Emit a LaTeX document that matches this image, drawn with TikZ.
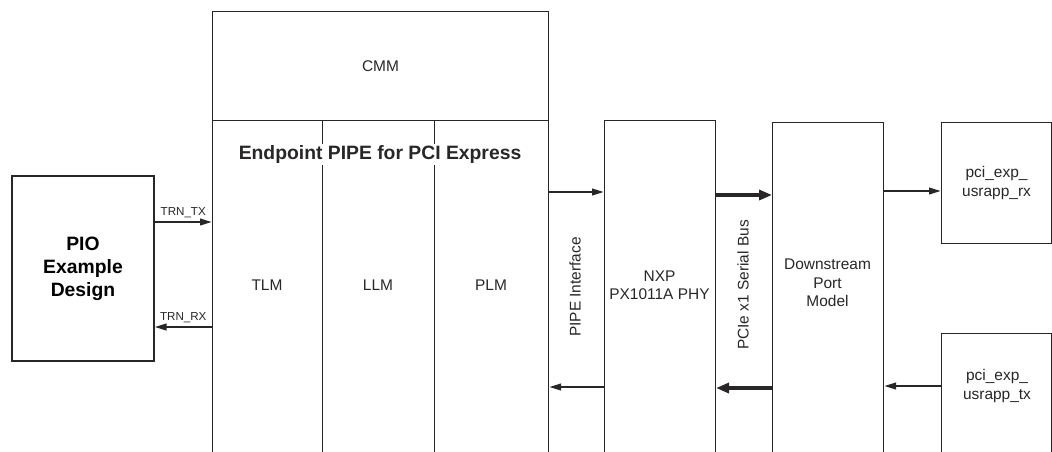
\documentclass[tikz,border=0pt]{standalone}
\usepackage{fontspec}
\setmainfont{Liberation Sans}
\usetikzlibrary{arrows.meta, positioning}
\definecolor{myline}{RGB}{40, 38, 38}

\begin{document}
\begin{tikzpicture}[
    blk/.style={draw=myline, line width=0.6pt, inner sep=0pt},
    lbl/.style={font=\fontsize{8.8}{10.5}\selectfont, align=center, text=myline},
    sig/.style={line width=1.3pt, draw=myline, -{Triangle[length=2.4mm, width=1.3mm]}},
    bus/.style={line width=2pt, draw=myline, -{Triangle[length=2.6mm, width=2mm]}},
    small/.style={font=\fontsize{6.6}{8}\selectfont, text=myline, inner sep=1.5pt}
]
    \useasboundingbox (0,0) rectangle (21.04,-9.02);
    \clip (0,0) rectangle (21.04,-9.02);

    % PIO Example Design
    \node[blk, minimum width=2.84cm, minimum height=3.70cm,
          font=\fontsize{11}{13}\selectfont\bfseries, align=center] (pio) at (1.66,-5.37)
          {PIO\\Example\\Design};

    % Endpoint block with CMM on top
    \node[blk, anchor=north west, minimum width=6.72cm, minimum height=9.6cm] (ep) at (4.24,-0.22) {};
    \node[blk, lbl, anchor=north west, minimum width=6.72cm, minimum height=2.18cm] (cmm) at (ep.north west) {CMM};

    \foreach \x in {6.45, 8.69}
    {
        \draw[myline, line width=0.45pt] (\x,-2.40) -- (\x,-9.6);
    }

    \node[fill=white, inner sep=1pt, font=\fontsize{11}{13}\selectfont\bfseries, text=myline] (title) at (7.60,-3.09) {Endpoint PIPE for PCI Express};

    \node[lbl] (tlm) at (5.34,-5.70) {TLM};
    \node[lbl] (llm) at (7.56,-5.70) {LLM};
    \node[lbl] (plm) at (9.82,-5.70) {PLM};

    % PHY and downstream port
    \node[blk, lbl, anchor=north west, minimum width=2.22cm, minimum height=7.2cm] (nxp) at (12.08,-2.40) {};
    \node[lbl] (nxptext) at (13.19,-5.70) {NXP\\PX1011A PHY};

    \node[blk, anchor=north west, minimum width=2.22cm, minimum height=7.2cm] (dsp) at (15.44,-2.44) {};
    \node[lbl] (dsptext) at (16.55,-5.66) {Downstream\\Port\\Model};

    % user application boxes
    \node[blk, lbl, anchor=north west, minimum width=2.20cm, minimum height=2.42cm] (rx) at (18.82,-2.44) {pci\_exp\_\\usrapp\_rx};
    \node[blk, anchor=north west, minimum width=2.20cm, minimum height=3.0cm] (tx) at (18.82,-6.66) {};
    \node[lbl] (txtext) at (19.94,-7.72) {pci\_exp\_\\usrapp\_tx};

    % interface labels
    \node[lbl, rotate=90] (pipe) at (11.50,-5.74) {PIPE Interface};
    \node[lbl, rotate=90] (pcie) at (14.86,-5.70) {PCIe x1 Serial Bus};

    % connections
    \draw[sig] (pio.east |- 0,-4.44) -- (ep.west |- 0,-4.44) node[small, midway, above] {TRN\_TX};
    \draw[sig] (ep.west |- 0,-6.54) -- (pio.east |- 0,-6.54) node[small, midway, above] {TRN\_RX};

    \draw[sig] (ep.east |- 0,-3.84) -- (nxp.west |- 0,-3.84);
    \draw[sig] (nxp.west |- 0,-7.74) -- (ep.east |- 0,-7.74);

    \draw[bus] (nxp.east |- 0,-3.90) -- (dsp.west |- 0,-3.90);
    \draw[bus] (dsp.west |- 0,-7.76) -- (nxp.east |- 0,-7.76);

    \draw[sig] (dsp.east |- 0,-3.82) -- (rx.west |- 0,-3.82);
    \draw[sig] (tx.west |- 0,-7.72) -- (dsp.east |- 0,-7.72);

\end{tikzpicture}
\end{document}
